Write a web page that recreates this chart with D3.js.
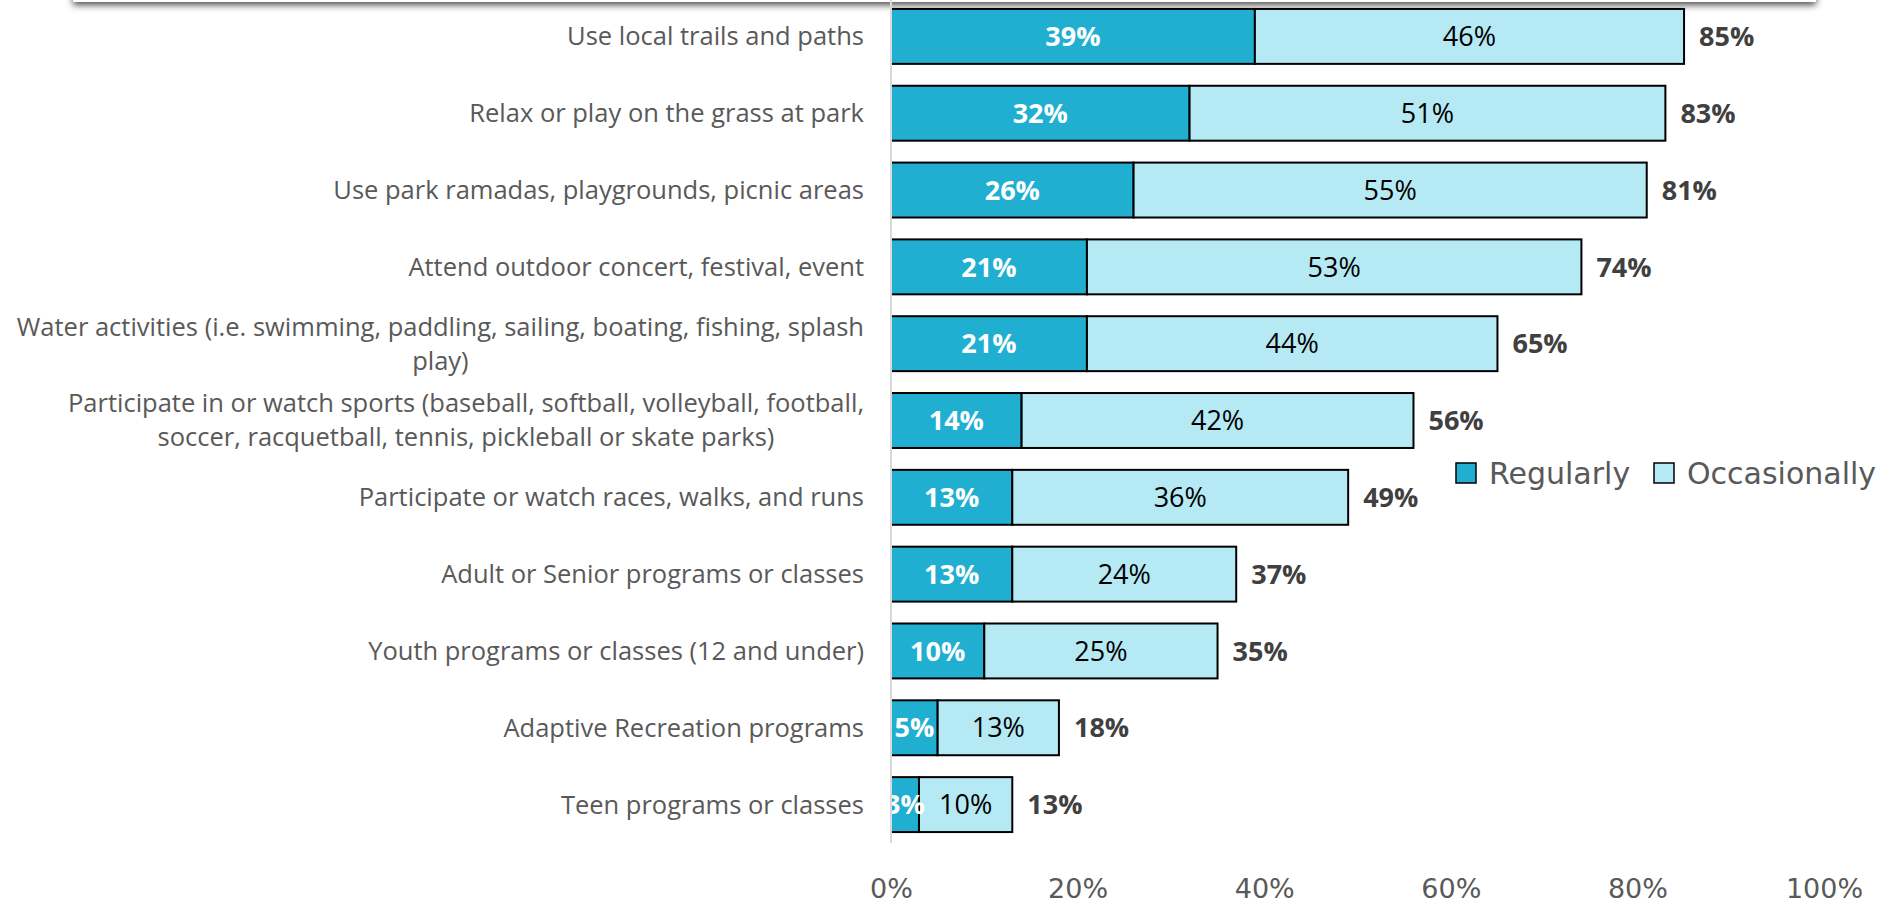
<!DOCTYPE html>
<html>
<head>
<meta charset="utf-8">
<script src="https://cdn.jsdelivr.net/npm/d3@7"></script>
<style>
  html, body { margin: 0; padding: 0; background: #fff; }
  svg { display: block; }
</style>
</head>
<body>
<div id="chart-container"></div>
<script>
// categories, top to bottom
const categories = [
  'Use local trails and paths',
  'Relax or play on the grass at park',
  'Use park ramadas, playgrounds, picnic areas',
  'Attend outdoor concert, festival, event',
  'Water activities (i.e. swimming, paddling, sailing, boating, fishing, splash|play)',
  'Participate in or watch sports (baseball, softball, volleyball, football,|soccer, racquetball, tennis, pickleball or skate parks)',
  'Participate or watch races, walks, and runs',
  'Adult or Senior programs or classes',
  'Youth programs or classes (12 and under)',
  'Adaptive Recreation programs',
  'Teen programs or classes'
];
const regularly = [39, 32, 26, 21, 21, 14, 13, 13, 10, 5, 3];
const occasionally = [46, 51, 55, 53, 44, 42, 36, 24, 25, 13, 10];
const seriesNames = ['Regularly', 'Occasionally'];
const xTicks = [0, 20, 40, 60, 80, 100];

const W = 1883, H = 903;
const colors = { Regularly: '#20afd1', Occasionally: '#b5e9f4' };

const svg = d3.select('#chart-container')
  .append('svg')
  .attr('width', W)
  .attr('height', H);

// shadowed box edge at the very top
const defs = svg.append('defs');
const f = defs.append('filter').attr('id', 'shadow')
  .attr('x', '-5%').attr('y', '-50%').attr('width', '110%').attr('height', '200%');
f.append('feDropShadow')
  .attr('dx', 0).attr('dy', 3).attr('stdDeviation', 3.5)
  .attr('flood-color', '#000').attr('flood-opacity', 0.7);
svg.append('rect')
  .attr('x', 73).attr('y', -60)
  .attr('width', 1743).attr('height', 62)
  .attr('fill', '#fff')
  .attr('filter', 'url(#shadow)');

//scales
const x = d3.scaleLinear().domain([0, 100]).range([891, 1824]);
const y = d3.scaleBand()
  .domain(categories)
  .range([-2, 843])
  .paddingInner(0.285)
  .paddingOuter(0.1425);

const rows = categories.map((c, i) => ({
  cat: c,
  reg: regularly[i],
  occ: occasionally[i],
  total: regularly[i] + occasionally[i]
}));

// x tick labels (no axis line, no ticks)
svg.append('g')
  .attr('transform', 'translate(0,898)')
  .call(d3.axisBottom(x).tickValues(xTicks).tickFormat((d) => d + '%').tickSize(0).tickPadding(0))
  .call((g) => g.select('.domain').remove())
  .call((g) => g.selectAll('text')
    .attr('y', 0).attr('dy', 0)
    .style('font-family', '"DejaVu Sans", sans-serif')
    .style('font-size', '27px')
    .style('fill', '#595959'));

// bars
const bar = svg.append('g').selectAll('g')
  .data(rows)
  .join('g');

bar.append('rect')
  .attr('x', x(0))
  .attr('y', (d) => y(d.cat))
  .attr('width', (d) => x(d.reg) - x(0))
  .attr('height', y.bandwidth())
  .attr('fill', colors.Regularly)
  .attr('stroke', '#000')
  .attr('stroke-width', 2);

bar.append('rect')
  .attr('x', (d) => x(d.reg))
  .attr('y', (d) => y(d.cat))
  .attr('width', (d) => x(d.total) - x(d.reg))
  .attr('height', y.bandwidth())
  .attr('fill', colors.Occasionally)
  .attr('stroke', '#000')
  .attr('stroke-width', 2);

// vertical category axis line
svg.append('line')
  .attr('x1', x(0)).attr('x2', x(0))
  .attr('y1', 0).attr('y2', 843)
  .attr('stroke', '#d9d9d9')
  .attr('stroke-width', 2);

const mid = (d) => y(d.cat) + y.bandwidth() / 2;

// segment labels
bar.append('text')
  .attr('x', (d) => (x(0) + x(d.reg)) / 2)
  .attr('y', mid)
  .attr('dy', '0.36em')
  .attr('text-anchor', 'middle')
  .style('font-family', '"Open Sans", sans-serif')
  .style('font-weight', 'bold')
  .style('font-size', '27px')
  .style('fill', '#fff')
  .text((d) => d.reg + '%');

bar.append('text')
  .attr('x', (d) => (x(d.reg) + x(d.total)) / 2)
  .attr('y', mid)
  .attr('dy', '0.36em')
  .attr('text-anchor', 'middle')
  .style('font-family', '"Open Sans", sans-serif')
  .style('font-size', '27px')
  .style('fill', '#000')
  .text((d) => d.occ + '%');

// totals
bar.append('text')
  .attr('x', (d) => x(d.total) + 15)
  .attr('y', mid)
  .attr('dy', '0.36em')
  .style('font-family', '"Open Sans", sans-serif')
  .style('font-weight', 'bold')
  .style('font-size', '27px')
  .style('fill', '#404040')
  .text((d) => d.total + '%');

// category labels, wrapped ones centred on their longest line
const labelRight = 864;
const lineH = 34;
svg.append('g').selectAll('text')
  .data(rows)
  .join('text')
  .style('font-family', '"Open Sans", sans-serif')
  .style('font-size', '25.5px')
  .style('fill', '#595959')
  .each(function (d) {
    const t = d3.select(this);
    const lines = d.cat.split('|');
    const spans = lines.map((l, i) => t.append('tspan')
      .attr('y', mid(d) + (i - (lines.length - 1) / 2) * lineH)
      .attr('dy', '0.35em')
      .text(l));
    if (lines.length === 1) {
      t.attr('text-anchor', 'end');
      spans[0].attr('x', labelRight);
    } else {
      const maxW = d3.max(spans, (s) => s.node().getComputedTextLength());
      t.attr('text-anchor', 'middle');
      spans.forEach((s) => s.attr('x', labelRight - maxW / 2));
    }
  });

// legend
const legend = svg.append('g').attr('transform', 'translate(1456,473)');
const legendX = [0, 198];
seriesNames.forEach((name, i) => {
  const g = legend.append('g').attr('transform', `translate(${legendX[i]},0)`);
  g.append('rect')
    .attr('x', 0).attr('y', -10)
    .attr('width', 20).attr('height', 20)
    .attr('fill', colors[name])
    .attr('stroke', '#000')
    .attr('stroke-width', 1.5);
  g.append('text')
    .attr('x', 33).attr('y', 0).attr('dy', '0.36em')
    .style('font-family', '"DejaVu Sans", sans-serif')
    .style('font-size', '30px')
    .style('fill', '#595959')
    .text(name);
});
</script>
</body>
</html>
